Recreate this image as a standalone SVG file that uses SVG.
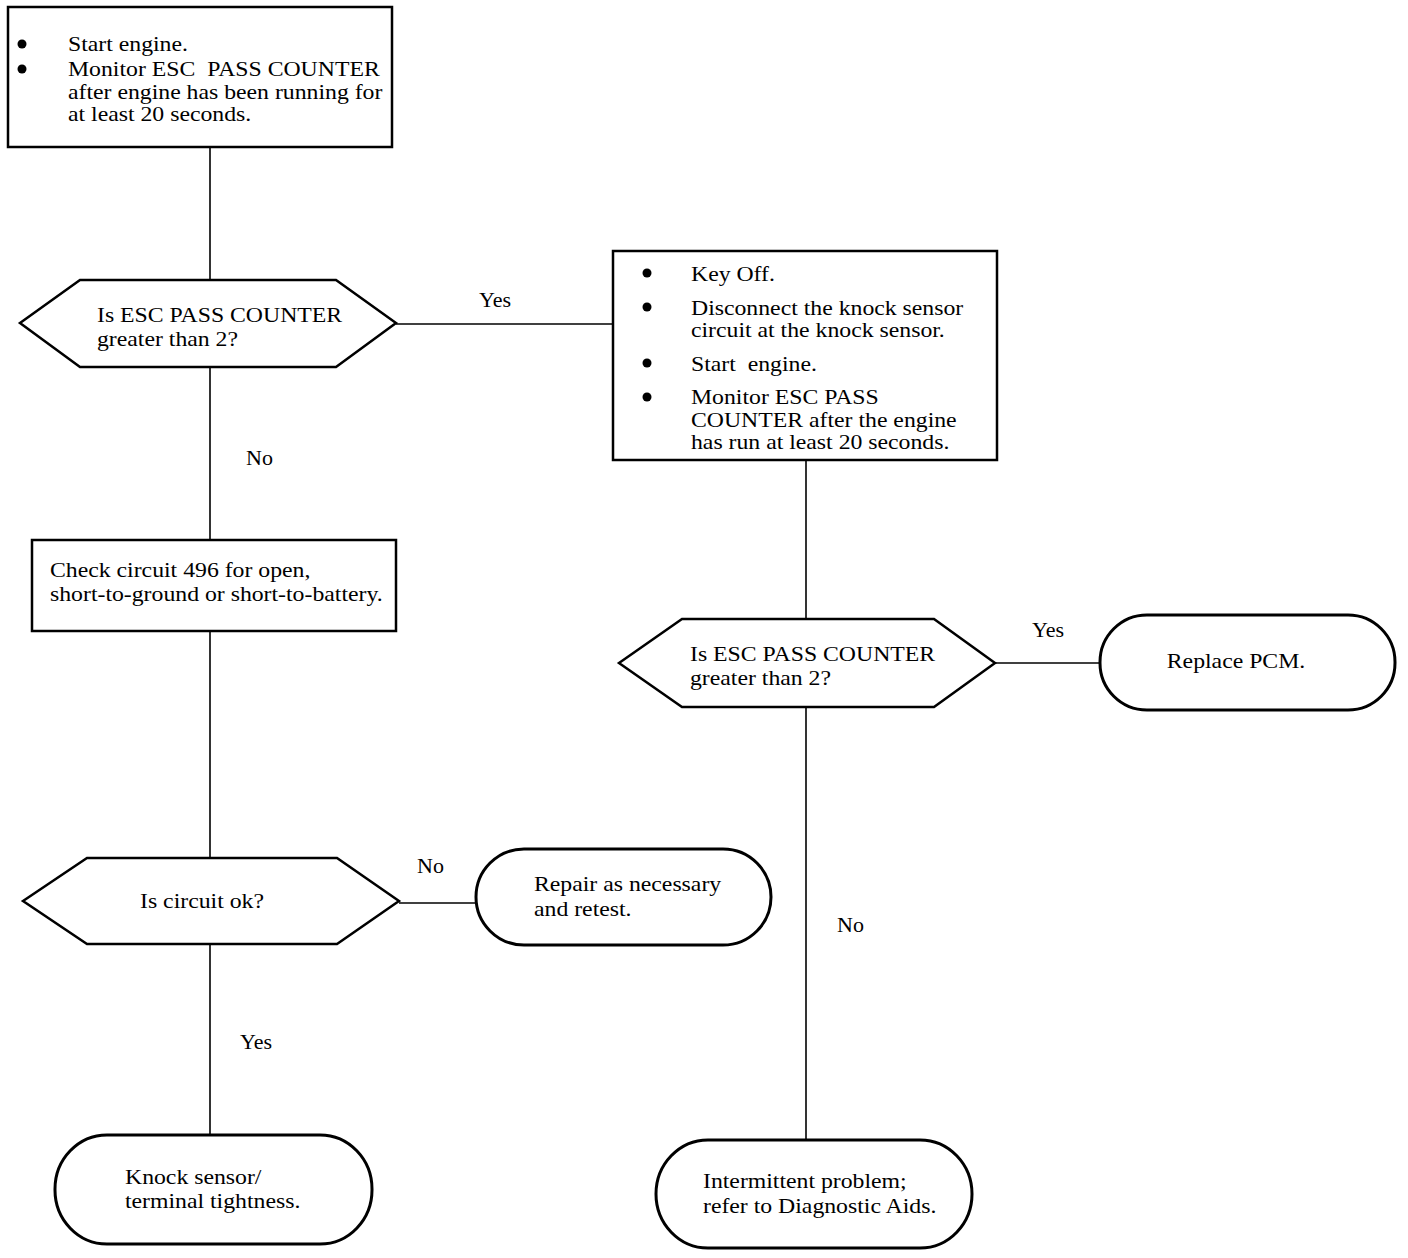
<svg xmlns="http://www.w3.org/2000/svg" width="1408" height="1258" viewBox="0 0 1408 1258">
<style>
.box{fill:#fff;stroke:#000;stroke-width:2.5}
.term{fill:#fff;stroke:#000;stroke-width:3}
.conn{fill:none;stroke:#000;stroke-width:1.6}
text{font-family:"Liberation Serif","Times New Roman",serif;font-size:22px;fill:#000}
.dot{fill:#000}
</style>
<rect width="1408" height="1258" fill="#fff"/>
<g id="connectors">
<line class="conn" x1="210" y1="147" x2="210" y2="280"/>
<line class="conn" x1="396" y1="324" x2="613" y2="324"/>
<line class="conn" x1="210" y1="367" x2="210" y2="540"/>
<line class="conn" x1="806" y1="460" x2="806" y2="619"/>
<line class="conn" x1="995" y1="663" x2="1100" y2="663"/>
<line class="conn" x1="806" y1="707" x2="806" y2="1140"/>
<line class="conn" x1="210" y1="631" x2="210" y2="858"/>
<line class="conn" x1="399" y1="903" x2="476" y2="903"/>
<line class="conn" x1="210" y1="944" x2="210" y2="1135"/>
<text x="479" y="307">Yes</text>
<text x="246" y="465">No</text>
<text x="1032" y="637">Yes</text>
<text x="837" y="932">No</text>
<text x="417" y="873">No</text>
<text x="240" y="1049">Yes</text>
</g>
<g id="start">
<rect class="box" x="8" y="7" width="384" height="140"/>
<circle class="dot" cx="22" cy="44" r="4.5"/>
<circle class="dot" cx="22" cy="69" r="4.5"/>
<g transform="scale(1.08 1)">
<text x="62.96" y="51">Start engine.</text>
<text x="62.96" y="76" xml:space="preserve">Monitor ESC  PASS COUNTER</text>
<text x="62.96" y="99">after engine has been running for</text>
<text x="62.96" y="121">at least 20 seconds.</text>
</g>
</g>
<g id="decision1">
<polygon class="box" points="20,323 80,280 336,280 396,323 336,367 80,367"/>
<g transform="scale(1.08 1)">
<text x="89.81" y="322">Is ESC PASS COUNTER</text>
<text x="89.81" y="346">greater than 2?</text>
</g>
</g>
<g id="keyoff">
<rect class="box" x="613" y="251" width="384" height="209"/>
<circle class="dot" cx="647" cy="273" r="4.5"/>
<circle class="dot" cx="647" cy="307" r="4.5"/>
<circle class="dot" cx="647" cy="363" r="4.5"/>
<circle class="dot" cx="647" cy="397" r="4.5"/>
<g transform="scale(1.08 1)">
<text x="639.81" y="281">Key Off.</text>
<text x="639.81" y="315">Disconnect the knock sensor</text>
<text x="639.81" y="337">circuit at the knock sensor.</text>
<text x="639.81" y="371" xml:space="preserve">Start  engine.</text>
<text x="639.81" y="404">Monitor ESC PASS</text>
<text x="639.81" y="427">COUNTER after the engine</text>
<text x="639.81" y="449">has run at least 20 seconds.</text>
</g>
</g>
<g id="check496">
<rect class="box" x="32" y="540" width="364" height="91"/>
<g transform="scale(1.08 1)">
<text x="46.3" y="577">Check circuit 496 for open,</text>
<text x="46.3" y="601">short-to-ground or short-to-battery.</text>
</g>
</g>
<g id="decision2">
<polygon class="box" points="619,663 682,619 934,619 995,663 934,707 682,707"/>
<g transform="scale(1.08 1)">
<text x="638.89" y="661">Is ESC PASS COUNTER</text>
<text x="638.89" y="685">greater than 2?</text>
</g>
</g>
<g id="replacepcm">
<rect class="term" x="1100" y="615" width="295" height="95" rx="47" ry="47"/>
<g transform="scale(1.08 1)">
<text x="1144.44" y="668" text-anchor="middle">Replace PCM.</text>
</g>
</g>
<g id="decision3">
<polygon class="box" points="23,901 87,858 337,858 399,901 337,944 87,944"/>
<g transform="scale(1.08 1)">
<text x="187.04" y="908" text-anchor="middle">Is circuit ok?</text>
</g>
</g>
<g id="repair">
<rect class="term" x="476" y="849" width="295" height="96" rx="48" ry="48"/>
<g transform="scale(1.08 1)">
<text x="494.44" y="891">Repair as necessary</text>
<text x="494.44" y="916">and retest.</text>
</g>
</g>
<g id="knock">
<rect class="term" x="55" y="1135" width="317" height="109" rx="52" ry="54"/>
<g transform="scale(1.08 1)">
<text x="115.74" y="1184">Knock sensor/</text>
<text x="115.74" y="1208">terminal tightness.</text>
</g>
</g>
<g id="intermittent">
<rect class="term" x="656" y="1140" width="316" height="108" rx="52" ry="54"/>
<g transform="scale(1.08 1)">
<text x="650.93" y="1188">Intermittent problem;</text>
<text x="650.93" y="1213">refer to Diagnostic Aids.</text>
</g>
</g>
</svg>
